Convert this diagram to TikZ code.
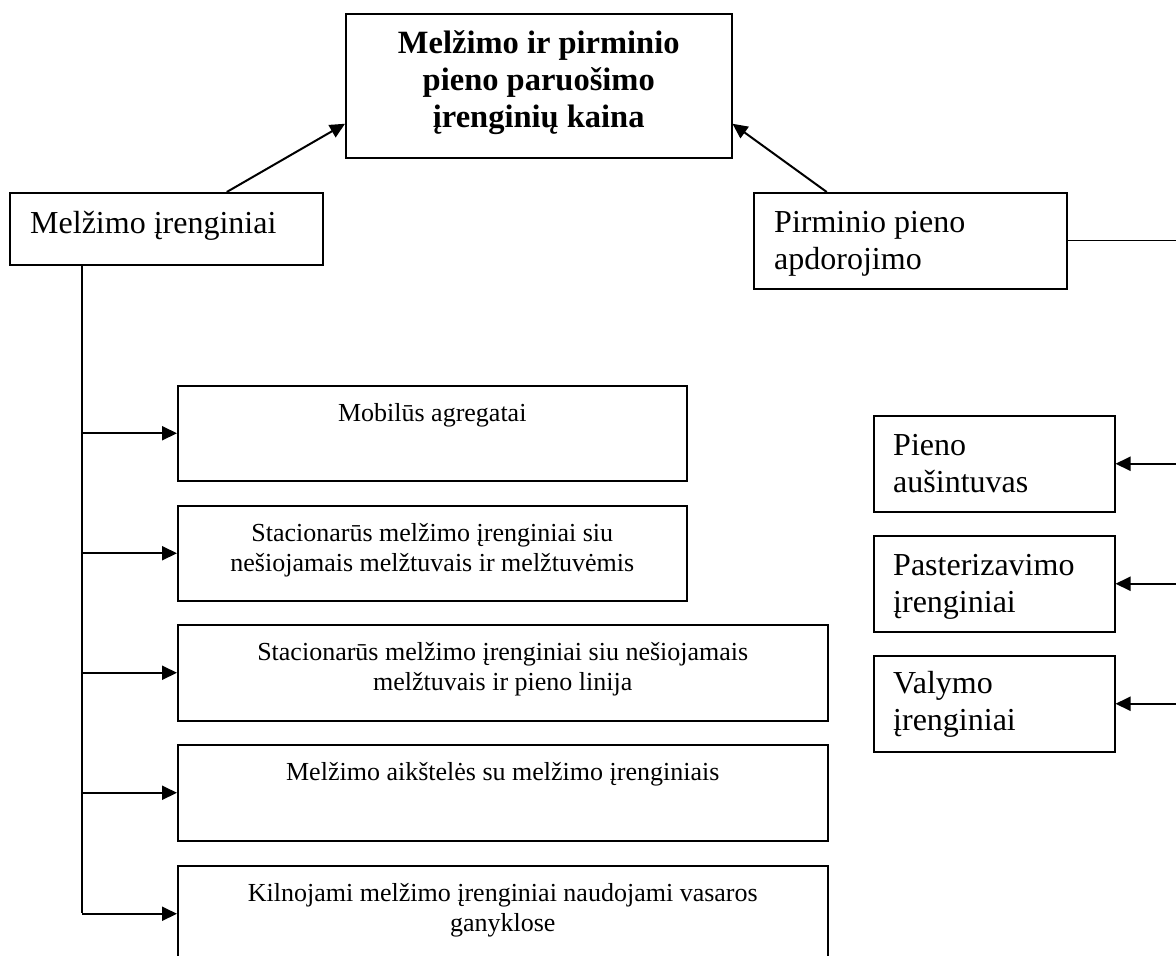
\documentclass[tikz,border=0pt]{standalone}
\usepackage{fontspec}
\setmainfont{Liberation Serif}
\usetikzlibrary{arrows.meta}
\begin{document}
\begin{tikzpicture}[x=1pt,y=-1pt,
  box/.style={draw, line width=1.5pt, inner sep=0pt, rectangle, anchor=north west},
  conn/.style={line width=2pt},
  thinconn/.style={line width=1.4pt},
  arr/.style={line width=2pt, -{Triangle[length=15pt,width=14pt]}},
  titletxt/.style={font=\fontsize{32.5}{37}\selectfont\bfseries, inner sep=0pt, align=center, anchor=base},
  bigtxt/.style={font=\fontsize{32}{37}\selectfont, inner sep=0pt, align=left, anchor=base west},
  smalltxt/.style={font=\fontsize{26}{30}\selectfont, inner sep=0pt, align=center, anchor=base}]
\useasboundingbox (0,0) rectangle (1176,956);
\clip (0,0) rectangle (1176,956);
% boxes
\node[box, minimum width=386pt, minimum height=144pt] (top) at (345,13) {};
\node[box, minimum width=313pt, minimum height=72pt] (mi) at (9,192) {};
\node[box, minimum width=313pt, minimum height=96pt] (pp) at (753,192) {};
\node[box, minimum width=509pt, minimum height=95pt] (b1) at (177,385) {};
\node[box, minimum width=509pt, minimum height=95pt] (b2) at (177,505) {};
\node[box, minimum width=650pt, minimum height=96pt] (b3) at (177,624) {};
\node[box, minimum width=650pt, minimum height=96pt] (b4) at (177,744) {};
\node[box, minimum width=650pt, minimum height=96pt] (b5) at (177,865) {};
\node[box, minimum width=241pt, minimum height=96pt] (r1) at (873,415) {};
\node[box, minimum width=241pt, minimum height=96pt] (r2) at (873,535) {};
\node[box, minimum width=241pt, minimum height=96pt] (r3) at (873,655) {};
% texts (base anchor = baseline of the last line)
\node[titletxt] (ttop) at ([yshift=-114pt]top.north) {Melžimo ir pirminio\\pieno paruošimo\\įrenginių kaina};
\node[bigtxt] (tmi) at ([xshift=21pt,yshift=-41pt]mi.north west) {Melžimo įrenginiai};
\node[bigtxt] (tpp) at ([xshift=21pt,yshift=-77pt]pp.north west) {Pirminio pieno\\apdorojimo};
\node[smalltxt] (tb1) at ([yshift=-36pt]b1.north) {Mobilūs agregatai};
\node[smalltxt] (tb2) at ([yshift=-66pt]b2.north) {Stacionarūs melžimo įrenginiai siu\\nešiojamais melžtuvais ir melžtuvėmis};
\node[smalltxt] (tb3) at ([yshift=-66pt]b3.north) {Stacionarūs melžimo įrenginiai siu nešiojamais\\melžtuvais ir pieno linija};
\node[smalltxt] (tb4) at ([yshift=-36pt]b4.north) {Melžimo aikštelės su melžimo įrenginiais};
\node[smalltxt] (tb5) at ([yshift=-66pt]b5.north) {Kilnojami melžimo įrenginiai naudojami vasaros\\ganyklose};
\node[bigtxt] (tr1) at ([xshift=20pt,yshift=-77pt]r1.north west) {Pieno\\aušintuvas};
\node[bigtxt] (tr2) at ([xshift=20pt,yshift=-77pt]r2.north west) {Pasterizavimo\\įrenginiai};
\node[bigtxt] (tr3) at ([xshift=20pt,yshift=-75pt]r3.north west) {Valymo\\įrenginiai};
% top arrows
\draw[arr] ([xshift=60.5pt]mi.north) -- ([yshift=-38pt]top.west);
\draw[arr] ([xshift=-83.5pt]pp.north) -- ([yshift=-38pt]top.east);
% left tree
\coordinate (vb) at (82,913);
\draw[conn] (mi.south -| vb) -- (vb);
\draw[arr] (vb |- b1.west) -- (b1.west);
\draw[arr] (vb |- b2.west) -- (b2.west);
\draw[arr] (vb |- b3.west) -- (b3.west);
\draw[arr] (vb |- b4.west) -- (b4.west);
\draw[arr] (vb |- b5.west) -- (b5.west);
% right tree
\coordinate (re) at (1176,240);
\draw[thinconn] (pp.east) -- (pp.east -| re);
\draw[arr] (re |- r1.east) -- (r1.east);
\draw[arr] (re |- r2.east) -- (r2.east);
\draw[arr] (re |- r3.east) -- (r3.east);
\end{tikzpicture}
\end{document}
